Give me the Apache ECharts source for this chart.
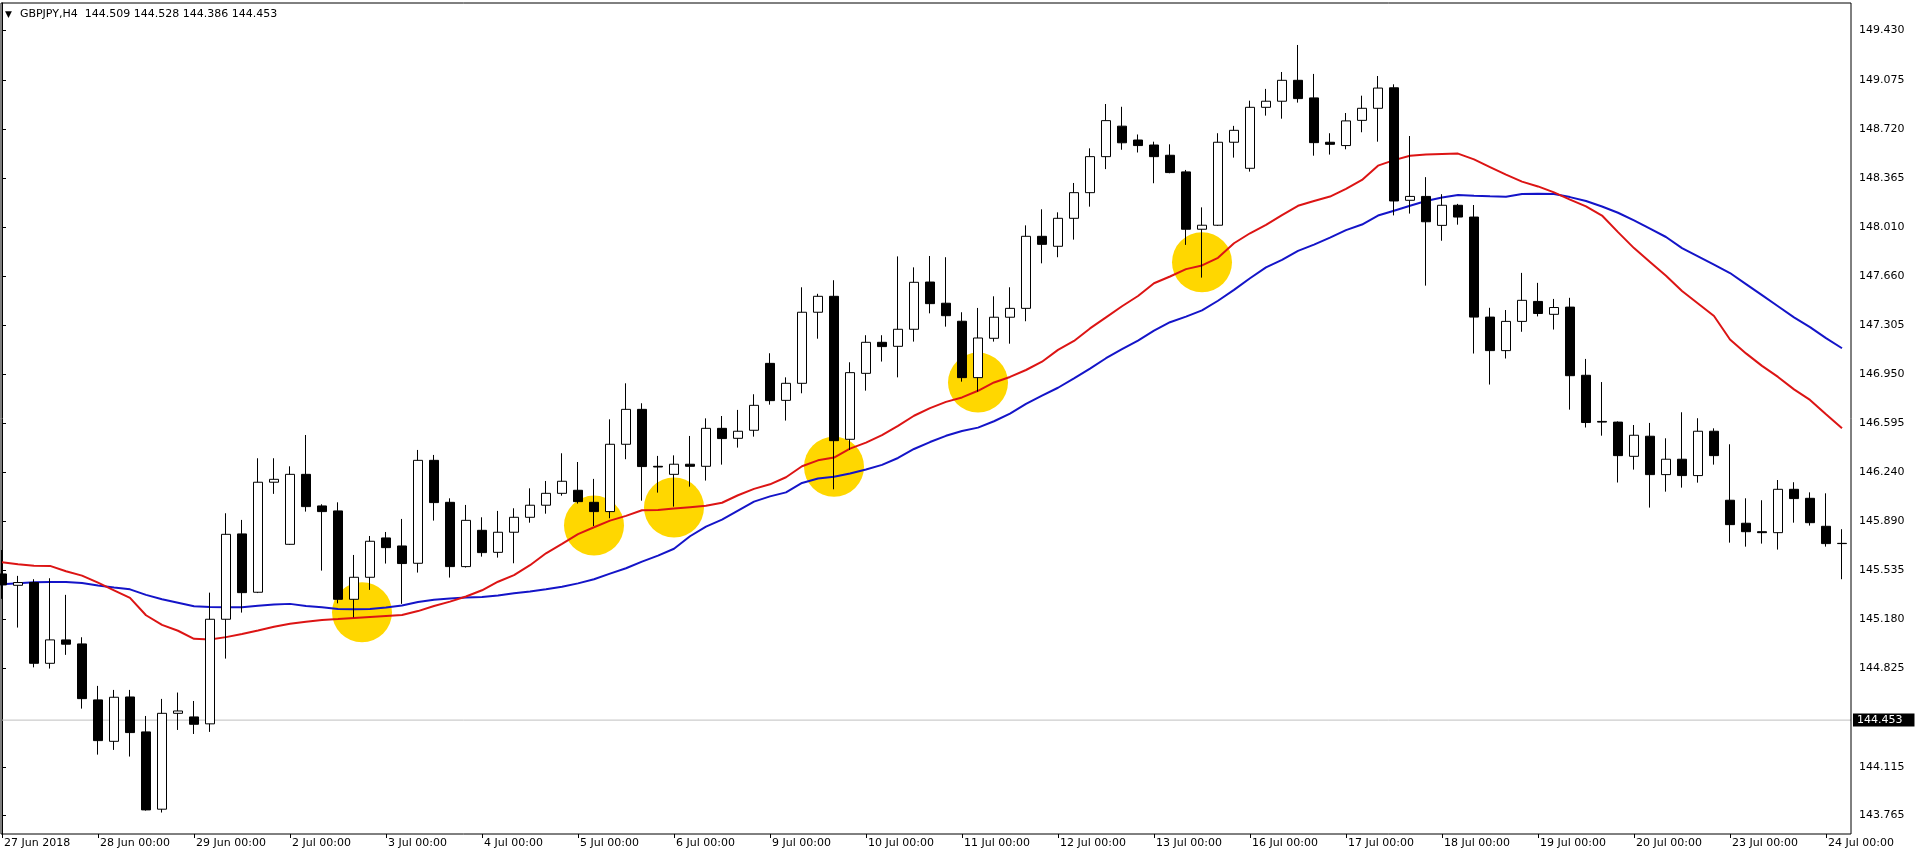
<!DOCTYPE html>
<html><head><meta charset="utf-8">
<script src="https://cdn.jsdelivr.net/npm/echarts@6/dist/echarts.min.js"></script>
<style>html,body{margin:0;padding:0;background:#fff;overflow:hidden}#c{width:1917px;height:858px}</style>
</head><body><div id="c"></div>
<script>
const symbolName = 'GBPJPY,H4';
const headerOHLC = ['144.509', '144.528', '144.386', '144.453'];
const currentPrice = 144.453;
const firstDayLabel = '27 Jun 2018';
const days = ['27 Jun','28 Jun','29 Jun','2 Jul','3 Jul','4 Jul','5 Jul','6 Jul','9 Jul','10 Jul','11 Jul','12 Jul','13 Jul','16 Jul','17 Jul','18 Jul','19 Jul','20 Jul','23 Jul','24 Jul'];
const hours = ['00:00','04:00','08:00','12:00','16:00','20:00'];
const yTickLabels = ['149.430','149.075','148.720','148.365','148.010','147.660','147.305','146.950','146.595','146.240','145.890','145.535','145.180','144.825','144.115','143.765'];

const opens = [145.508,145.426,145.446,144.863,145.032,145.003,144.599,144.300,144.620,144.368,
143.810,144.502,144.476,144.426,145.181,145.797,145.376,146.170,145.722,146.227,
145.999,145.963,145.325,145.484,145.768,145.710,145.585,146.328,146.025,145.561,
145.823,145.664,145.809,145.917,146.004,146.090,146.112,146.025,145.958,146.444,
146.696,146.285,146.227,146.300,146.285,146.559,146.487,146.545,147.028,146.761,
146.884,147.397,147.512,146.480,146.956,147.180,147.151,147.274,147.615,147.462,
147.332,146.925,147.209,147.361,147.425,147.945,147.873,148.075,148.260,148.520,
148.740,148.640,148.604,148.530,148.410,147.996,148.025,148.624,148.436,148.876,
148.920,149.071,148.944,148.624,148.600,148.782,148.869,149.017,148.205,148.233,
148.024,148.169,148.084,147.362,147.120,147.331,147.475,147.382,147.434,146.942,
146.609,146.604,146.357,146.502,146.225,146.336,146.218,146.538,146.040,145.874,
145.813,145.806,146.119,146.054,145.852,145.729];
const closes = [145.429,145.446,144.863,145.032,145.001,144.608,144.305,144.618,144.363,143.805,
144.502,144.519,144.423,145.181,145.794,145.373,146.170,146.191,146.227,145.994,
145.958,145.325,145.484,145.744,145.698,145.583,146.328,146.023,145.561,145.895,
145.662,145.809,145.917,146.004,146.090,146.177,146.030,145.958,146.444,146.696,
146.283,146.280,146.300,146.285,146.559,146.485,146.538,146.725,146.759,146.884,
147.397,147.512,146.470,146.961,147.180,147.149,147.274,147.613,147.459,147.372,
146.925,147.211,147.361,147.425,147.945,147.887,148.075,148.260,148.520,148.780,
148.620,148.600,148.520,148.405,147.996,148.025,148.624,148.710,148.876,148.920,
149.071,148.939,148.621,148.609,148.778,148.869,149.015,148.200,148.233,148.050,
148.169,148.084,147.362,147.120,147.331,147.483,147.388,147.431,146.939,146.601,
146.604,146.362,146.509,146.225,146.336,146.218,146.538,146.362,145.864,145.813,
145.806,146.119,146.052,145.878,145.727,145.727];
const lows = [145.328,145.121,144.834,144.825,144.924,144.536,144.204,144.238,144.190,143.800,
143.786,144.382,144.353,144.368,144.897,145.229,145.370,146.086,145.718,145.958,
145.532,145.296,145.195,145.393,145.583,145.292,145.518,145.893,145.482,145.554,
145.633,145.626,145.585,145.878,145.943,146.073,146.016,145.854,145.910,146.336,
146.037,146.095,145.994,146.138,146.182,146.297,146.420,146.499,146.730,146.615,
146.812,147.206,146.119,146.403,146.831,147.041,146.927,147.185,147.389,147.293,
146.896,146.824,147.185,147.170,147.332,147.750,147.794,147.921,148.159,148.430,
148.570,148.550,148.328,148.400,147.883,147.647,148.020,148.513,148.412,148.816,
148.794,148.910,148.527,148.535,148.573,148.696,148.628,148.096,148.109,147.589,
147.913,148.029,147.099,146.875,147.063,147.256,147.367,147.272,146.694,146.565,
146.506,146.168,146.261,145.987,146.102,146.131,146.167,146.297,145.734,145.705,
145.727,145.684,145.878,145.857,145.705,145.470];
const highs = [145.681,145.494,145.470,145.477,145.357,145.051,144.700,144.671,144.671,144.483,
144.606,144.652,144.591,145.373,145.946,145.898,146.343,146.343,146.285,146.511,
146.011,146.025,145.645,145.782,145.811,145.905,146.403,146.367,146.054,146.006,
145.917,145.963,145.982,146.126,146.179,146.379,146.316,146.194,146.624,146.884,
146.740,146.360,146.364,146.504,146.631,146.648,146.692,146.805,147.101,146.927,
147.577,147.530,147.628,147.036,147.231,147.231,147.800,147.721,147.803,147.794,
147.397,147.428,147.512,147.577,148.024,148.140,148.118,148.330,148.580,148.900,
148.880,148.680,148.628,148.609,148.424,148.154,148.689,148.742,148.924,149.009,
149.131,149.326,149.117,148.689,148.835,148.960,149.102,149.042,148.669,148.372,
148.249,148.179,148.171,147.429,147.413,147.681,147.609,147.493,147.501,147.060,
146.893,146.609,146.583,146.598,146.487,146.675,146.632,146.559,146.444,146.054,
146.040,146.186,146.170,146.097,146.090,145.831];

const maFast = [145.592,145.578,145.568,145.566,145.528,145.496,145.445,145.390,145.335,145.210,
145.140,145.098,145.040,145.035,145.052,145.075,145.100,145.127,145.148,145.163,
145.176,145.182,145.190,145.198,145.205,145.212,145.240,145.277,145.308,145.345,
145.390,145.452,145.500,145.571,145.657,145.725,145.795,145.845,145.893,145.927,
145.968,145.970,145.980,145.990,146.000,146.022,146.076,146.122,146.155,146.206,
146.285,146.328,146.348,146.413,146.456,146.510,146.577,146.650,146.705,146.750,
146.782,146.830,146.890,146.930,146.980,147.040,147.125,147.190,147.280,147.360,
147.440,147.514,147.606,147.655,147.708,147.735,147.790,147.895,147.967,148.027,
148.098,148.165,148.200,148.232,148.288,148.352,148.455,148.495,148.527,148.535,
148.540,148.542,148.500,148.445,148.390,148.340,148.305,148.262,148.210,148.161,
148.095,147.975,147.860,147.760,147.660,147.550,147.460,147.370,147.200,147.100,
147.010,146.930,146.840,146.764,146.660,146.559];
const maSlow = [145.434,145.441,145.448,145.450,145.450,145.442,145.425,145.410,145.397,145.357,
145.325,145.300,145.275,145.270,145.268,145.267,145.278,145.288,145.292,145.277,
145.267,145.255,145.253,145.255,145.265,145.280,145.305,145.322,145.330,145.338,
145.342,145.352,145.368,145.382,145.397,145.415,145.440,145.470,145.510,145.549,
145.597,145.640,145.690,145.780,145.850,145.900,145.965,146.030,146.068,146.097,
146.165,146.197,146.210,146.233,146.262,146.295,146.345,146.410,146.460,146.505,
146.540,146.564,146.610,146.665,146.735,146.795,146.852,146.920,146.990,147.065,
147.130,147.192,147.264,147.325,147.365,147.410,147.480,147.558,147.642,147.721,
147.775,147.840,147.885,147.935,147.990,148.030,148.095,148.130,148.166,148.200,
148.225,148.243,148.238,148.234,148.231,148.250,148.252,148.250,148.228,148.200,
148.160,148.115,148.060,148.000,147.940,147.860,147.800,147.740,147.680,147.600,
147.520,147.440,147.360,147.290,147.210,147.137];

const highlightBars = [22.5, 37, 42, 52, 61, 75];
const highlightPrices = [145.232, 145.857, 145.987, 146.282, 146.889, 147.758];

const categories = opens.map((_, i) => days[Math.floor(i / 6)] + ' ' + hours[i % 6]);
const candles = opens.map((o, i) => [o, closes[i], lows[i], highs[i]]);
const highlights = highlightBars.map((b, k) => [b, highlightPrices[k]]);
const yTicks = yTickLabels.map(Number);
const priceMin = 143.631, priceMax = 149.629;

const FONT = 'DejaVu Sans';
const chart = echarts.init(document.getElementById('c'), null, { renderer: 'canvas' });
const isDayStart = (i) => i % 6 === 0;

chart.setOption({
  animation: false,
  backgroundColor: '#ffffff',
  title: {
    text: '{tri|▼}  ' + symbolName + '  ' + headerOHLC.join(' '),
    left: 5, top: 9, padding: 0,
    textStyle: { fontFamily: FONT, fontSize: 11, fontWeight: 'normal', color: '#000',
      rich: { tri: { fontSize: 9, fontFamily: FONT, color: '#000', padding: [0, 1, 0, 0] } } }
  },
  grid: [
    { left: 2, right: 75, top: 3, bottom: 24, show: false },
    { left: 1, right: 66, top: 3, bottom: 24, show: true, borderColor: '#000', borderWidth: 1, backgroundColor: 'transparent', z: 10 }
  ],
  xAxis: [
    { type: 'category', gridIndex: 0, data: categories, boundaryGap: false,
      axisLine: { show: false },
      axisTick: { show: true, interval: isDayStart, length: 4, lineStyle: { color: '#000' } },
      axisLabel: { show: true, interval: isDayStart, align: 'left', margin: 4, padding: [0, 0, 0, 2],
        fontFamily: FONT, fontSize: 11, color: '#000',
        formatter: (v, i) => i === 0 ? firstDayLabel : v },
      splitLine: { show: false } },
    { type: 'value', gridIndex: 0, min: 0, max: opens.length - 1, show: false },
    { type: 'value', gridIndex: 1, show: false, min: 0, max: 1 }
  ],
  yAxis: [
    { type: 'value', gridIndex: 0, position: 'right', offset: 9, min: priceMin, max: priceMax,
      axisLine: { show: true, lineStyle: { color: '#000', width: 1 } },
      axisTick: { show: true, length: 4, customValues: yTicks, lineStyle: { color: '#000' } },
      axisLabel: { show: true, customValues: yTicks, margin: 8, fontFamily: FONT, fontSize: 11, color: '#000',
        formatter: (v) => v.toFixed(3) },
      splitLine: { show: false } },
    { type: 'value', gridIndex: 1, show: false, min: priceMin, max: priceMax }
  ],
  series: [
    { name: 'current', type: 'line', xAxisIndex: 2, yAxisIndex: 1,
      data: [[0, currentPrice], [1, currentPrice]], showSymbol: false, silent: true, z: 0,
      lineStyle: { color: '#c0c0c0', width: 1 },
      endLabel: { show: true, distance: 2, formatter: () => currentPrice.toFixed(3),
        backgroundColor: '#000', color: '#fff', fontFamily: FONT, fontSize: 11, padding: [1, 12, 1, 4] } },
    { name: 'highlight', type: 'scatter', xAxisIndex: 1, yAxisIndex: 0, data: highlights,
      symbol: 'circle', symbolSize: 60, itemStyle: { color: '#FFD700', opacity: 1 }, z: 1, silent: true },
    { name: 'MA slow', type: 'line', xAxisIndex: 0, yAxisIndex: 0, data: maSlow, showSymbol: false,
      lineStyle: { color: '#1414c8', width: 2 }, itemStyle: { color: '#1414c8' }, z: 2, silent: true },
    { name: 'MA fast', type: 'line', xAxisIndex: 0, yAxisIndex: 0, data: maFast, showSymbol: false,
      lineStyle: { color: '#dc1414', width: 2 }, itemStyle: { color: '#dc1414' }, z: 2, silent: true },
    { name: symbolName, type: 'candlestick', xAxisIndex: 0, yAxisIndex: 0, data: candles, barWidth: 10, z: 3,
      clip: false,
      itemStyle: { color: '#ffffff', color0: '#000000', borderColor: '#000000', borderColor0: '#000000', borderColorDoji: '#000000', borderWidth: 1 } }
  ]
});
</script></body></html>
